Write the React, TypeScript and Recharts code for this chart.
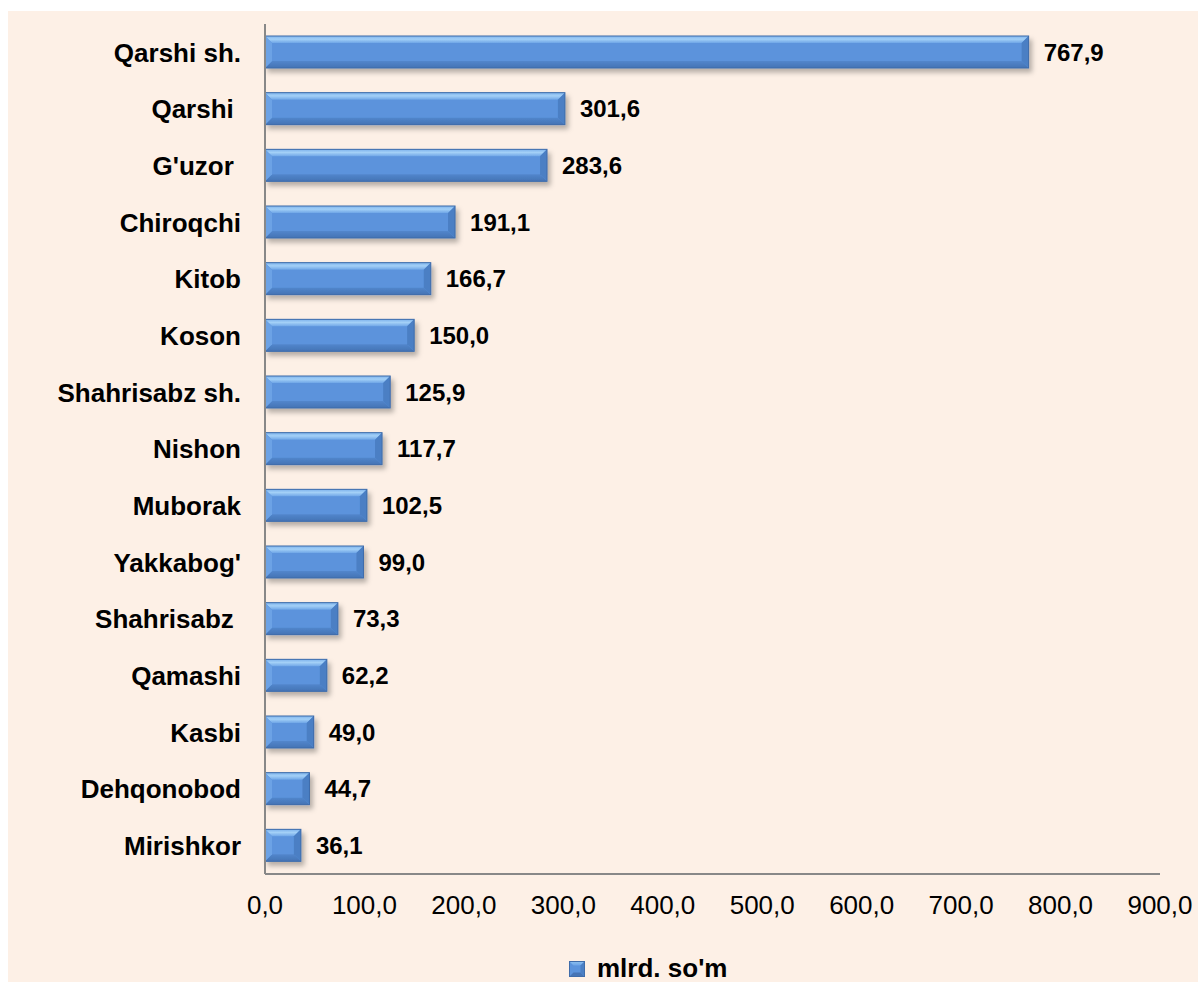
import React from "react";
import { BarChart, Bar, XAxis, YAxis, LabelList } from "recharts";

const categories = [
  "Qarshi sh.",
  "Qarshi ",
  "G'uzor ",
  "Chiroqchi",
  "Kitob",
  "Koson",
  "Shahrisabz sh.",
  "Nishon",
  "Muborak",
  "Yakkabog'",
  "Shahrisabz ",
  "Qamashi",
  "Kasbi",
  "Dehqonobod",
  "Mirishkor",
];
const values = [767.9, 301.6, 283.6, 191.1, 166.7, 150.0, 125.9, 117.7, 102.5, 99.0, 73.3, 62.2, 49.0, 44.7, 36.1];
const xTicks = [0, 100, 200, 300, 400, 500, 600, 700, 800, 900];
const seriesName = "mlrd. so'm";

const data = categories.map((name, i) => ({ name, value: values[i] }));

const FONT = "'Liberation Sans', Arial, sans-serif";
const fmt = (v: number) => v.toFixed(1).replace(".", ",");

const BevelBar = (props: any) => {
  const { x, y, width, height } = props;
  if (!width || width <= 0) return null;
  const b = Math.min(7, width / 2, height / 2);
  const r = x + width;
  const bt = y + height;
  return (
    <g filter="url(#barShadow)">
      <rect x={x} y={y} width={width} height={height} fill="#5B93DC" />
      <polygon points={`${x},${y} ${r},${y} ${r - b},${y + b} ${x + b},${y + b}`} fill="url(#topBevel)" />
      <polygon points={`${x},${bt} ${r},${bt} ${r - b},${bt - b} ${x + b},${bt - b}`} fill="url(#bottomBevel)" />
      <polygon points={`${x},${y} ${x + b},${y + b} ${x + b},${bt - b} ${x},${bt}`} fill="#6CA2E5" />
      <polygon points={`${r},${y} ${r - b},${y + b} ${r - b},${bt - b} ${r},${bt}`} fill="#4B7FC4" />
      <rect x={x} y={y} width={width} height={height} fill="none" stroke="#3F6CAA" strokeWidth={1} />
    </g>
  );
};

const CategoryTick = (props: any) => {
  const { x, y, payload } = props;
  return (
    <text
      x={x - 24}
      y={y}
      dy="0.355em"
      textAnchor="end"
      fontFamily={FONT}
      fontSize={26}
      fontWeight="bold"
      fill="#000"
      style={{ whiteSpace: "pre" }}
    >
      {payload.value}
    </text>
  );
};

const ValueTick = (props: any) => {
  const { x, y, payload } = props;
  return (
    <text x={x} y={y + 40} textAnchor="middle" fontFamily={FONT} fontSize={26} fill="#000">
      {fmt(payload.value)}
    </text>
  );
};

const ValueLabel = (props: any) => {
  const { x, y, width, height, value } = props;
  return (
    <text
      x={x + width + 15}
      y={y + height / 2}
      dy="0.355em"
      fontFamily={FONT}
      fontSize={24}
      fontWeight="bold"
      fill="#000"
    >
      {fmt(value)}
    </text>
  );
};

export default function App() {
  return (
    <div
      style={{
        position: "fixed",
        left: 8,
        top: 11,
        width: 1190,
        height: 971,
        background: "#FDF0E6",
        overflow: "hidden",
      }}
    >
      <BarChart
        width={1190}
        height={971}
        data={data}
        layout="vertical"
        margin={{ top: 13, right: 38, left: 0, bottom: 68 }}
      >
        <defs>
          <linearGradient id="topBevel" x1="0" y1="0" x2="0" y2="1">
            <stop offset="0%" stopColor="#7DB2EC" />
            <stop offset="45%" stopColor="#A3D0F7" />
            <stop offset="100%" stopColor="#6FA6E7" />
          </linearGradient>
          <linearGradient id="bottomBevel" x1="0" y1="0" x2="0" y2="1">
            <stop offset="0%" stopColor="#5286CC" />
            <stop offset="100%" stopColor="#4473B4" />
          </linearGradient>
          <filter id="barShadow" x="-10%" y="-30%" width="130%" height="180%">
            <feDropShadow dx="3" dy="4" stdDeviation="2.5" floodColor="#000" floodOpacity="0.28" />
          </filter>
        </defs>
        <XAxis
          type="number"
          domain={[0, 900]}
          ticks={xTicks}
          height={40}
          tickSize={0}
          tickMargin={0}
          tickLine={false}
          axisLine={{ stroke: "#888888", strokeWidth: 2 }}
          tick={<ValueTick />}
          interval={0}
        />
        <YAxis
          type="category"
          dataKey="name"
          width={257}
          tickSize={0}
          tickMargin={0}
          tickLine={false}
          axisLine={{ stroke: "#888888", strokeWidth: 2 }}
          tick={<CategoryTick />}
          interval={0}
        />
        <Bar dataKey="value" name={seriesName} barSize={32} shape={<BevelBar />} isAnimationActive={false}>
          <LabelList dataKey="value" content={<ValueLabel />} />
        </Bar>
      </BarChart>
      <svg style={{ position: "absolute", left: 561, top: 950 }} width={16} height={16}>
        <defs>
          <linearGradient id="legTop" x1="0" y1="0" x2="0" y2="1">
            <stop offset="0%" stopColor="#8CC0F0" />
            <stop offset="100%" stopColor="#6CA3E6" />
          </linearGradient>
        </defs>
        <rect x={0.5} y={0.5} width={15} height={15} fill="#5B93DC" />
        <polygon points="0.5,0.5 15.5,0.5 11.5,4.5 4.5,4.5" fill="url(#legTop)" />
        <polygon points="0.5,15.5 15.5,15.5 11.5,11.5 4.5,11.5" fill="#4674B5" />
        <polygon points="15.5,0.5 11.5,4.5 11.5,11.5 15.5,15.5" fill="#4B7FC4" />
        <rect x={0.5} y={0.5} width={15} height={15} fill="none" stroke="#3F6CAA" strokeWidth={1} />
      </svg>
      <div
        style={{
          position: "absolute",
          left: 589,
          top: 942,
          lineHeight: "30px",
          fontFamily: FONT,
          fontSize: 26,
          fontWeight: "bold",
          color: "#000",
          whiteSpace: "nowrap",
        }}
      >
        {seriesName}
      </div>
    </div>
  );
}
